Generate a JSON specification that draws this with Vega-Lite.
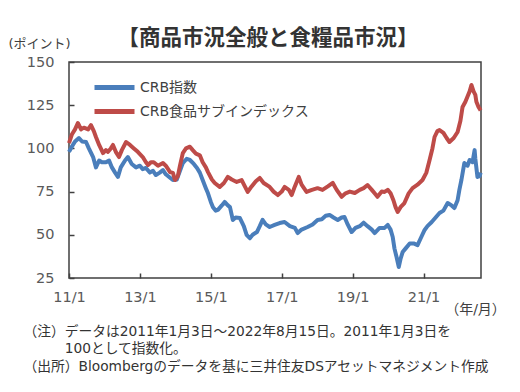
{
  "$schema": "https://vega.github.io/schema/vega-lite/v6.json",
  "width": 412,
  "height": 216,
  "autosize": {"type": "none"},
  "padding": {"left": 69, "top": 62, "right": 39, "bottom": 114},
  "background": "white",
  "config": {
    "view": {"stroke": "#404040", "strokeWidth": 1.5},
    "font": "Noto Sans CJK JP"
  },
  "title": {"text": "【商品市況全般と食糧品市況】", "fontSize": 21.5, "fontWeight": "bold", "font": "Noto Sans CJK JP", "color": "#333333", "anchor": "middle", "dx": -7, "dy": 24, "offset": 12},
  "datasets": {
    "crb": [
      {"t":2011.00,"v":98},{"t":2011.08,"v":101},{"t":2011.17,"v":104},{"t":2011.28,"v":106},{"t":2011.37,"v":104},{"t":2011.48,"v":103.7},{"t":2011.56,"v":100},{"t":2011.68,"v":95},{"t":2011.76,"v":89},{"t":2011.85,"v":93},{"t":2011.93,"v":92},{"t":2012.04,"v":92},{"t":2012.13,"v":93},{"t":2012.21,"v":89},{"t":2012.30,"v":86},{"t":2012.38,"v":83.5},{"t":2012.46,"v":89},{"t":2012.58,"v":93},{"t":2012.66,"v":95},{"t":2012.77,"v":91},{"t":2012.89,"v":89},{"t":2013.00,"v":90},{"t":2013.08,"v":88},{"t":2013.17,"v":88.7},{"t":2013.28,"v":86},{"t":2013.37,"v":87},{"t":2013.45,"v":84.6},{"t":2013.56,"v":86},{"t":2013.65,"v":87.5},{"t":2013.73,"v":85},{"t":2013.85,"v":83},{"t":2013.93,"v":81.7},{"t":2014.04,"v":82},{"t":2014.13,"v":87},{"t":2014.21,"v":91.5},{"t":2014.32,"v":94},{"t":2014.41,"v":93.3},{"t":2014.52,"v":91},{"t":2014.61,"v":88.7},{"t":2014.69,"v":86},{"t":2014.77,"v":81.7},{"t":2014.86,"v":77},{"t":2014.92,"v":74},{"t":2015.00,"v":69},{"t":2015.06,"v":66},{"t":2015.14,"v":64},{"t":2015.20,"v":64.4},{"t":2015.31,"v":67},{"t":2015.39,"v":69},{"t":2015.48,"v":67},{"t":2015.54,"v":66},{"t":2015.62,"v":58.6},{"t":2015.70,"v":60},{"t":2015.82,"v":59.7},{"t":2015.93,"v":55},{"t":2016.01,"v":50},{"t":2016.10,"v":48},{"t":2016.18,"v":50},{"t":2016.30,"v":51.6},{"t":2016.38,"v":55},{"t":2016.46,"v":58.6},{"t":2016.55,"v":56},{"t":2016.66,"v":54.5},{"t":2016.80,"v":55.7},{"t":2016.94,"v":56.8},{"t":2017.08,"v":57.4},{"t":2017.23,"v":55},{"t":2017.37,"v":54},{"t":2017.45,"v":51},{"t":2017.56,"v":53},{"t":2017.73,"v":54.5},{"t":2017.87,"v":56},{"t":2018.01,"v":58.6},{"t":2018.13,"v":59},{"t":2018.24,"v":61},{"t":2018.35,"v":61.5},{"t":2018.46,"v":60},{"t":2018.58,"v":58.6},{"t":2018.69,"v":60},{"t":2018.77,"v":60.3},{"t":2018.86,"v":56},{"t":2018.97,"v":51.6},{"t":2019.08,"v":54},{"t":2019.20,"v":55},{"t":2019.31,"v":57},{"t":2019.42,"v":55},{"t":2019.54,"v":53},{"t":2019.62,"v":51},{"t":2019.76,"v":54},{"t":2019.90,"v":54},{"t":2019.99,"v":55.7},{"t":2020.07,"v":53},{"t":2020.13,"v":48.7},{"t":2020.18,"v":42},{"t":2020.24,"v":37},{"t":2020.30,"v":31.4},{"t":2020.35,"v":36},{"t":2020.41,"v":40},{"t":2020.49,"v":42},{"t":2020.61,"v":45},{"t":2020.72,"v":45},{"t":2020.83,"v":44},{"t":2020.92,"v":48},{"t":2021.03,"v":52.8},{"t":2021.11,"v":55},{"t":2021.23,"v":57.4},{"t":2021.34,"v":60},{"t":2021.45,"v":62.6},{"t":2021.56,"v":64},{"t":2021.68,"v":68.4},{"t":2021.79,"v":67},{"t":2021.87,"v":65.5},{"t":2021.96,"v":70},{"t":2022.01,"v":76},{"t":2022.07,"v":82},{"t":2022.15,"v":91.5},{"t":2022.24,"v":90},{"t":2022.30,"v":93.3},{"t":2022.38,"v":92},{"t":2022.44,"v":99},{"t":2022.46,"v":94},{"t":2022.52,"v":83.5},{"t":2022.58,"v":84},{"t":2022.61,"v":86}
    ],
    "food": [
      {"t":2011.00,"v":103},{"t":2011.08,"v":108},{"t":2011.17,"v":111},{"t":2011.25,"v":114.7},{"t":2011.34,"v":111},{"t":2011.42,"v":112},{"t":2011.54,"v":111},{"t":2011.62,"v":113.5},{"t":2011.70,"v":110},{"t":2011.76,"v":106.6},{"t":2011.85,"v":102},{"t":2011.96,"v":97.3},{"t":2012.04,"v":99},{"t":2012.10,"v":98},{"t":2012.18,"v":100},{"t":2012.24,"v":102},{"t":2012.32,"v":98},{"t":2012.41,"v":95},{"t":2012.49,"v":99},{"t":2012.61,"v":103.7},{"t":2012.72,"v":102},{"t":2012.83,"v":100},{"t":2012.94,"v":98},{"t":2013.08,"v":95},{"t":2013.17,"v":92},{"t":2013.23,"v":90.4},{"t":2013.31,"v":92},{"t":2013.39,"v":92},{"t":2013.51,"v":90},{"t":2013.65,"v":91.5},{"t":2013.73,"v":90},{"t":2013.85,"v":86.3},{"t":2013.93,"v":85.8},{"t":2013.99,"v":81.7},{"t":2014.07,"v":84},{"t":2014.13,"v":90},{"t":2014.21,"v":97.3},{"t":2014.30,"v":100},{"t":2014.41,"v":101},{"t":2014.49,"v":99},{"t":2014.58,"v":97},{"t":2014.69,"v":96},{"t":2014.77,"v":92},{"t":2014.86,"v":89},{"t":2014.92,"v":86.3},{"t":2015.03,"v":82},{"t":2015.11,"v":80},{"t":2015.25,"v":77.7},{"t":2015.37,"v":80},{"t":2015.48,"v":83.5},{"t":2015.59,"v":82},{"t":2015.73,"v":80.6},{"t":2015.87,"v":81.7},{"t":2015.96,"v":78},{"t":2016.04,"v":74.8},{"t":2016.15,"v":78},{"t":2016.27,"v":81},{"t":2016.38,"v":82.9},{"t":2016.49,"v":80},{"t":2016.66,"v":77.7},{"t":2016.77,"v":75},{"t":2016.89,"v":73},{"t":2017.00,"v":75},{"t":2017.08,"v":77.7},{"t":2017.20,"v":76},{"t":2017.28,"v":73},{"t":2017.37,"v":78},{"t":2017.48,"v":83.5},{"t":2017.56,"v":79},{"t":2017.70,"v":74.8},{"t":2017.85,"v":76},{"t":2018.01,"v":77},{"t":2018.15,"v":76},{"t":2018.30,"v":78},{"t":2018.44,"v":80},{"t":2018.55,"v":76},{"t":2018.69,"v":72},{"t":2018.80,"v":74},{"t":2018.92,"v":75},{"t":2019.06,"v":74.2},{"t":2019.20,"v":76},{"t":2019.31,"v":77},{"t":2019.42,"v":78.8},{"t":2019.54,"v":76},{"t":2019.62,"v":74},{"t":2019.70,"v":72},{"t":2019.82,"v":75},{"t":2019.90,"v":74.8},{"t":2019.99,"v":76},{"t":2020.07,"v":74},{"t":2020.15,"v":70},{"t":2020.21,"v":66},{"t":2020.27,"v":63.2},{"t":2020.35,"v":66},{"t":2020.46,"v":68.4},{"t":2020.58,"v":74},{"t":2020.69,"v":77},{"t":2020.83,"v":79},{"t":2020.97,"v":81.7},{"t":2021.08,"v":86},{"t":2021.17,"v":93.3},{"t":2021.25,"v":100},{"t":2021.31,"v":106.6},{"t":2021.39,"v":110},{"t":2021.45,"v":110.6},{"t":2021.56,"v":109},{"t":2021.65,"v":106},{"t":2021.73,"v":103.7},{"t":2021.85,"v":106},{"t":2021.96,"v":109.5},{"t":2022.04,"v":116},{"t":2022.10,"v":124},{"t":2022.18,"v":127},{"t":2022.24,"v":130},{"t":2022.30,"v":133},{"t":2022.35,"v":136.7},{"t":2022.41,"v":133},{"t":2022.46,"v":131},{"t":2022.49,"v":127},{"t":2022.55,"v":124},{"t":2022.61,"v":122}
    ]
  },
  "layer": [
    {
      "data": {"name": "crb"},
      "transform": [{"calculate": "'CRB指数'", "as": "series"}],
      "mark": {"type": "line", "strokeWidth": 4, "strokeJoin": "round"},
      "encoding": {
        "x": {"field": "t", "type": "quantitative",
          "scale": {"domain": [2011, 2022.62], "nice": false, "zero": false},
          "axis": {"values": [2011, 2013, 2015, 2017, 2019, 2021], "labelExpr": "substring(toString(datum.value),2,4)+'/1'", "grid": false, "domain": false, "tickSize": -5, "tickColor": "#404040", "tickWidth": 1.5, "labelFont": "DejaVu Sans", "labelFontSize": 14.5, "labelColor": "#595959", "labelPadding": 17, "labelFlush": false, "title": "（年/月）", "titleFont": "DejaVu Sans, Noto Sans CJK JP", "titleFontWeight": "normal", "titleFontSize": 14, "titleColor": "#404040", "titleX": 406, "titleY": 31, "titleAlign": "center", "titleBaseline": "middle"}},
        "y": {"field": "v", "type": "quantitative",
          "scale": {"domain": [25, 150], "nice": false, "zero": false},
          "axis": {"values": [25, 50, 75, 100, 125, 150], "grid": false, "domain": false, "tickSize": -5, "tickColor": "#404040", "tickWidth": 1.5, "labelFont": "DejaVu Sans", "labelFontSize": 14.5, "labelColor": "#595959", "labelPadding": 20, "title": "(ポイント)", "titleFont": "DejaVu Sans, Noto Sans CJK JP", "titleAngle": 0, "titleFontWeight": "normal", "titleFontSize": 13, "titleColor": "#404040", "titleX": -30, "titleY": -19, "titleAlign": "center", "titleBaseline": "middle"}},
        "color": {"field": "series", "type": "nominal",
          "scale": {"domain": ["CRB指数", "CRB食品サブインデックス"], "range": ["#4a7ebb", "#be4b48"]},
          "legend": {"orient": "none", "legendX": 38, "legendY": 18, "title": null, "symbolType": "M-4,0H4", "symbolSize": 100, "symbolStrokeWidth": 5, "labelFont": "DejaVu Sans, Noto Sans CJK JP", "labelFontSize": 14, "labelColor": "#404040", "labelOffset": 18, "labelLimit": 400, "rowPadding": 3}}
      }
    },
    {
      "data": {"name": "food"},
      "transform": [{"calculate": "'CRB食品サブインデックス'", "as": "series"}],
      "mark": {"type": "line", "strokeWidth": 4, "strokeJoin": "round"},
      "encoding": {
        "x": {"field": "t", "type": "quantitative", "axis": {"orient": "bottom", "labels": false, "ticks": false, "domain": false, "grid": false, "title": ["（注）データは2011年1月3日～2022年8月15日。2011年1月3日を", "\u200b　　　100として指数化。", "（出所）Bloombergのデータを基に三井住友DSアセットマネジメント作成"], "titleFont": "DejaVu Sans, Noto Sans CJK JP", "titleAlign": "left", "titleAnchor": "start", "titleX": -46, "titleY": 46, "titleBaseline": "top", "titleFontSize": 13.75, "titleFontWeight": "normal", "titleColor": "#333333", "titleLineHeight": 17.5, "titleLimit": 600}},
        "y": {"field": "v", "type": "quantitative"},
        "color": {"field": "series", "type": "nominal"}
      }
    }
  ],
  "resolve": {"axis": {"x": "independent"}}
}
